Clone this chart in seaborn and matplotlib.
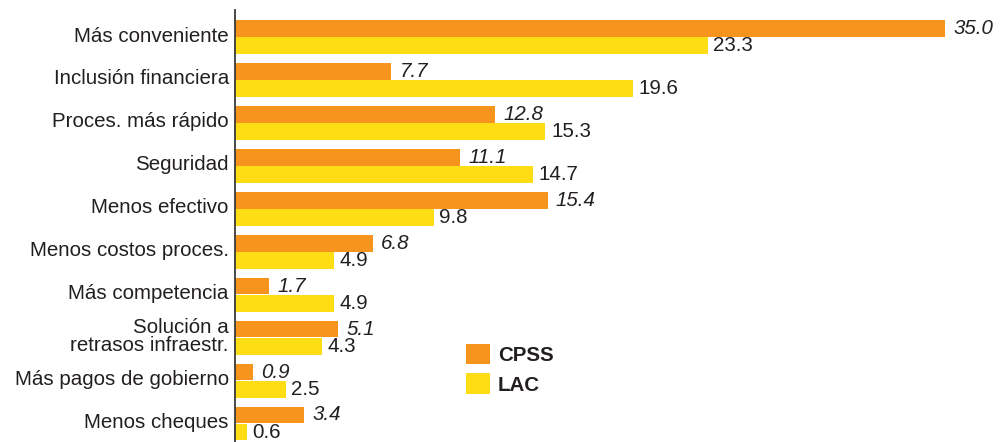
import matplotlib
matplotlib.use("Agg")
import matplotlib.pyplot as plt
import matplotlib.transforms as mtransforms
import seaborn as sns
import pandas as pd
from matplotlib.patches import Patch

categories = [
    "Más conveniente",
    "Inclusión financiera",
    "Proces. más rápido",
    "Seguridad",
    "Menos efectivo",
    "Menos costos proces.",
    "Más competencia",
    "Solución a\nretrasos infraestr.",
    "Más pagos de gobierno",
    "Menos cheques",
]
cpss = [35.0, 7.7, 12.8, 11.1, 15.4, 6.8, 1.7, 5.1, 0.9, 3.4]
lac = [23.3, 19.6, 15.3, 14.7, 9.8, 4.9, 4.9, 4.3, 2.5, 0.6]
series_names = ["CPSS", "LAC"]

df = pd.DataFrame({
    "categoria": categories * 2,
    "valor": cpss + lac,
    "serie": [series_names[0]] * len(categories) + [series_names[1]] * len(categories),
})

sns.set_theme(style="white")
plt.rcParams["font.family"] = ["Liberation Sans", "DejaVu Sans"]

TEXT = "#231F20"
FS = 14.8
palette = {"CPSS": "#F7941D", "LAC": "#FFDD15"}

fig = plt.figure(figsize=(10.05, 4.42), dpi=100)
ax = fig.add_axes([235 / 1005, 0.0, 761 / 1005, 1 - 10 / 442])

sns.barplot(data=df, y="categoria", x="valor", hue="serie", orient="h",
            palette=palette, order=categories, hue_order=series_names,
            width=0.8, gap=0.03, ax=ax, saturation=1, legend=False,
            linewidth=0)

ax.set_xlim(0, 37.5)
ax.set_ylim(9.43, -0.63)
ax.set_xlabel("")
ax.set_ylabel("")
ax.set_xticks([])

for s in ["top", "right", "bottom"]:
    ax.spines[s].set_visible(False)
ax.spines["left"].set_color("#3a3a3a")
ax.spines["left"].set_linewidth(1.3)

ax.tick_params(axis="y", length=0, pad=4.5, labelsize=FS, labelcolor=TEXT)
shift = mtransforms.ScaledTranslation(0, 3 / 100, fig.dpi_scale_trans)
for lab in ax.get_yticklabels():
    lab.set_linespacing(0.95)
    lab.set_transform(lab.get_transform() + shift)

cont_cpss, cont_lac = ax.containers[0], ax.containers[1]
ax.bar_label(cont_cpss, fmt="%.1f", padding=6, fontsize=FS, color=TEXT, fontstyle="italic")
ax.bar_label(cont_lac, fmt="%.1f", padding=4, fontsize=FS, color=TEXT)

handles = [Patch(facecolor=palette[n], edgecolor="none") for n in series_names]
leg = fig.legend(handles, series_names, loc="upper left",
                 bbox_to_anchor=(466 / 1005, 1 - 344 / 442),
                 frameon=False, borderpad=0, borderaxespad=0,
                 handlelength=1.15, handleheight=1.15, handletextpad=0.4,
                 labelspacing=0.4, prop={"size": FS, "weight": "bold"})
for t in leg.get_texts():
    t.set_color(TEXT)

fig.savefig("out.png", dpi=100)
